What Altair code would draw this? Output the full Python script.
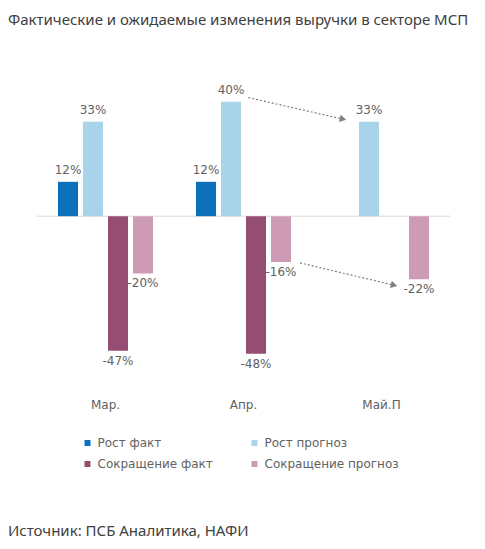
import altair as alt
import pandas as pd

# Revenue change in the SME sector, % (actual vs expected)
months = ["Мар.", "Апр.", "Май.П"]
series = ["Рост факт", "Рост прогноз", "Сокращение факт", "Сокращение прогноз"]
growth_fact = [12, 12, None]
growth_forecast = [33, 40, 33]
decline_fact = [-47, -48, None]
decline_forecast = [-20, -16, -22]
series_colors = ["#0B6FBA", "#A8D3E9", "#954D72", "#CD9CB4"]

# Dotted forecast arrows: x in month-group units (0..3), y in percent
arrow_id = ["a", "a", "b", "b"]
arrow_x = [1.535, 2.221, 1.909, 2.591]
arrow_y = [41.4, 33.9, -16.3, -24.1]
arrow_end = [False, True, False, True]

source_text = ["Источник: ПСБ Аналитика, НАФИ"]

rows = []
for name, vals in zip(series, [growth_fact, growth_forecast, decline_fact, decline_forecast]):
    for m, v in zip(months, vals):
        if v is not None:
            rows.append({"month": m, "series": name, "value": v, "label": f"{v}%"})
df = pd.DataFrame(rows)

arrows = pd.DataFrame({"arrow": arrow_id, "x": arrow_x, "y": arrow_y, "end": arrow_end})

FONT = "DejaVu Sans"
GREY = "#626262"

y_scale = alt.Scale(domain=[-60, 50], nice=False, zero=False)

x_band = alt.X(
    "month:N",
    sort=months,
    scale=alt.Scale(domain=months, paddingInner=0.275, paddingOuter=0.1375),
    axis=alt.Axis(
        title=None, domain=False, ticks=False, tickSize=0, labelAngle=0,
        labelPadding=11, labelFontSize=12, labelColor=GREY, labelFont=FONT,
    ),
)
x_off = alt.XOffset("series:N", sort=series,
                    scale=alt.Scale(domain=series, paddingInner=0.2, paddingOuter=0.1))
y_val = alt.Y("value:Q", scale=y_scale, axis=None)

zero_line = alt.Chart(pd.DataFrame({"v": [0]})).mark_rule(
    color="#D9D9D9", strokeWidth=1
).encode(y=alt.Y("v:Q", scale=y_scale, axis=None))

bars = alt.Chart(df).mark_bar().encode(
    x=x_band,
    xOffset=x_off,
    y=y_val,
    color=alt.Color(
        "series:N",
        sort=series,
        scale=alt.Scale(domain=series, range=series_colors),
        legend=alt.Legend(
            title=None, orient="none", legendX=45, legendY=364,
            direction="horizontal", columns=2,
            symbolType="square", symbolSize=36, symbolStrokeWidth=0,
            labelFontSize=12, labelFont=FONT, labelColor=GREY,
            columnPadding=35, rowPadding=9, labelOffset=4, padding=0,
        ),
    ),
)

pos_labels = alt.Chart(df).transform_filter("datum.value > 0").mark_text(
    baseline="bottom", dy=-5, fontSize=12, font=FONT, color=GREY
).encode(x=x_band, xOffset=x_off, y=y_val, text="label:N")

neg_labels = alt.Chart(df).transform_filter("datum.value < 0").mark_text(
    baseline="top", dy=5, fontSize=12, font=FONT, color=GREY
).encode(x=x_band, xOffset=x_off, y=y_val, text="label:N")

main = alt.layer(zero_line, bars, pos_labels, neg_labels)

x_lin = alt.X("x:Q", scale=alt.Scale(domain=[0, 3], nice=False, zero=False), axis=None)
y_lin = alt.Y("y:Q", scale=y_scale, axis=None)

arrow_lines = alt.Chart(arrows).mark_line(
    color="#808080", strokeWidth=1.2, strokeDash=[2, 2]
).encode(x=x_lin, y=y_lin, detail="arrow:N")

arrow_heads = alt.Chart(arrows).transform_filter("datum.end").mark_point(
    shape="triangle-right", filled=True, size=55, angle=13, color="#808080", opacity=1
).encode(x=x_lin, y=y_lin)

source = alt.Chart(pd.DataFrame({"t": source_text})).mark_text(
    align="left", baseline="alphabetic", fontSize=15, font="Noto Sans", color="#404040"
).encode(x=alt.value(-28.5), y=alt.value(463), text="t:N")

chart = alt.layer(main, arrow_lines, arrow_heads, source).resolve_scale(
    x="independent"
).properties(
    width=414,
    height=315,
    autosize=alt.AutoSizeParams(type="none"),
    padding={"left": 36.5, "top": 73, "right": 34.5, "bottom": 161},
    title=alt.Title(
        "Фактические и ожидаемые изменения выручки в секторе МСП",
        anchor="start", frame="group", dx=-28.5, offset=45,
        fontSize=15, font="Noto Sans", fontWeight="normal", color="#404040",
    ),
).configure_view(stroke=None)

chart.save("out.html", embed_options={"renderer": "svg", "actions": False})
